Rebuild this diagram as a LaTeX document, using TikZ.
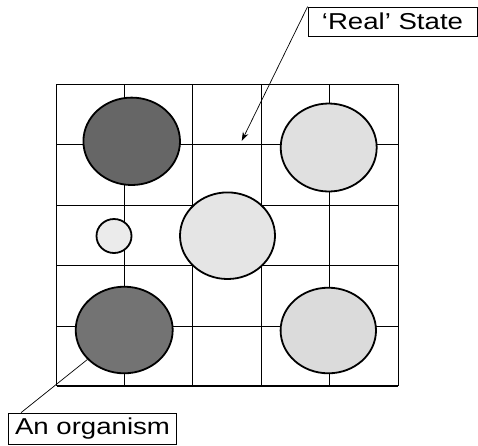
\documentclass[tikz,border=0pt]{standalone}
\usepackage{fontspec}
\newfontfamily\tagfont{Liberation Sans}[FakeStretch=1.2]
\usetikzlibrary{shapes.geometric,arrows.meta}

\begin{document}
\begin{tikzpicture}[x=1pt,y=-1pt,
  org/.style={ellipse,draw,line width=1.8pt,inner sep=0pt},
  tag/.style={draw,line width=0.8pt,inner sep=0pt,font=\tagfont\fontsize{23}{23}\selectfont}]
  \useasboundingbox (0,0) rectangle (478,445);
  % the grid
  \foreach \x in {56.7,124.3,192.7,261,329,398.3} \draw[line width=1pt] (\x,84)--(\x,386);
  \foreach \y in {84,144.3,205.7,265.7,326.7} \draw[line width=1pt] (56.7,\y)--(398.3,\y);
  \draw[line width=2pt] (56.7,386)--(398.3,386);
  % organisms
  \node[org,fill=black!60,minimum width=96.6pt,minimum height=87.4pt] (o1) at (131.7,141.3) {};
  \node[org,fill=black!12,minimum width=96pt,minimum height=88pt] (o2) at (328.7,147.5) {};
  \node[org,fill=black!8,minimum width=35pt,minimum height=34pt] (o3) at (114,236) {};
  \node[org,fill=black!10,minimum width=95pt,minimum height=86.6pt] (o4) at (227.5,235.7) {};
  \node[org,fill=black!55,minimum width=97pt,minimum height=86.6pt] (o5) at (124.2,330) {};
  \node[org,fill=black!14,minimum width=95.4pt,minimum height=85.6pt] (o6) at (328.3,330.5) {};
  % labels
  \node[tag,minimum width=169pt,minimum height=29pt] (real) at (392.5,21.5) {‘Real’ State};
  \node[tag,minimum width=168pt,minimum height=31pt] (an) at (92.5,428.5) {An organism};
  \coordinate (st) at (241.7,141);
  \draw[-{Stealth[length=9pt,width=6pt]},line width=0.7pt] (real.north west) -- (st);
  \draw[line width=0.7pt] ([xshift=13pt]an.north west) -- (o5);
\end{tikzpicture}
\end{document}
